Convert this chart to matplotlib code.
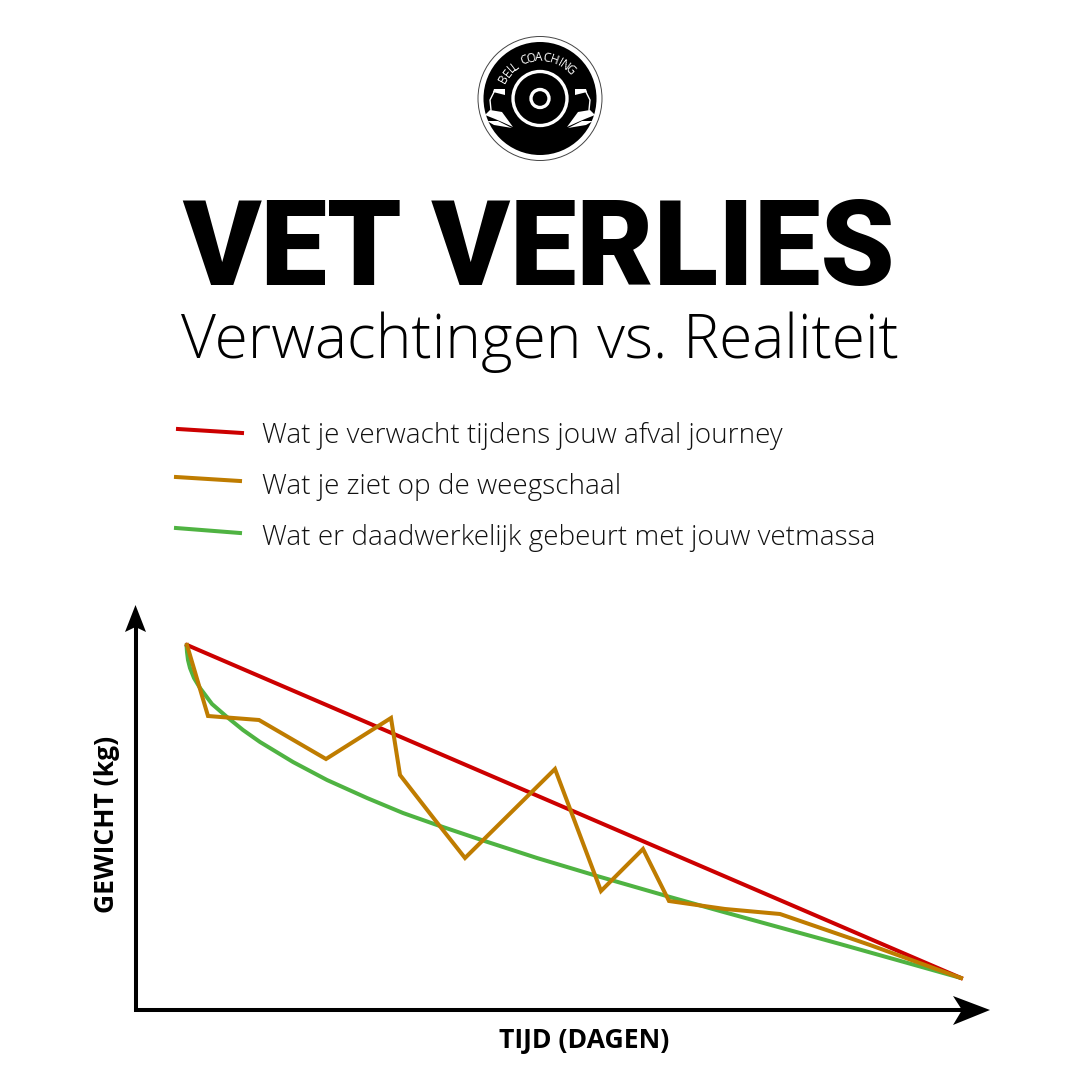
import math
import matplotlib
matplotlib.use("Agg")
import matplotlib.pyplot as plt
from matplotlib.patches import Circle, Polygon

title = "VET VERLIES"
subtitle = "Verwachtingen vs. Realiteit"
legend_labels = ["Wat je verwacht tijdens jouw afval journey",
                 "Wat je ziet op de weegschaal",
                 "Wat er daadwerkelijk gebeurt met jouw vetmassa"]
x_label = "TIJD (DAGEN)"
y_label = "GEWICHT (kg)"
expected_x = [187, 961]
expected_y = [645, 978]
scale_x = [187, 208, 259, 326, 391, 400, 435, 465, 555, 601, 643, 669, 725, 780, 870, 961]
scale_y = [645, 716, 720, 759, 718, 775, 820, 858, 769, 891, 849, 901, 909, 914, 945, 978]
fat_x = [186.5, 187, 188, 190, 194, 200, 212, 227, 243, 260, 293, 327, 367, 403, 437, 483, 537, 597, 670, 720, 840, 961]
fat_y = [645, 652, 660, 668, 678, 688, 704, 717, 730, 742, 762, 780, 798, 813, 825, 840.5, 858, 876, 897, 911, 944, 978]
c_red, c_orange, c_green = "#cc0000", "#bf7c00", "#4fb342"

fig = plt.figure(figsize=(10.8, 10.8), dpi=100, facecolor="white")
ax = fig.add_axes([0, 0, 1, 1])
ax.set_xlim(0, 1080)
ax.set_ylim(1080, 0)
ax.axis("off")

ax.plot(fat_x, fat_y, color=c_green, lw=2.9, solid_capstyle="round", solid_joinstyle="round", zorder=3)
ax.plot(expected_x, expected_y, color=c_red, lw=2.9, zorder=5)
ax.plot(scale_x, scale_y, color=c_orange, lw=2.9, solid_joinstyle="miter", zorder=6)

# axes arrows
ax.plot([135.5, 135.5, 965], [625, 1010, 1010], color="black", lw=2.9, solid_joinstyle="miter", zorder=7)
ax.add_patch(Polygon([[135.5, 605], [146, 632], [135.5, 627], [125, 632]], fc="black", ec="none", zorder=8))
ax.add_patch(Polygon([[990, 1010], [953, 996], [962, 1010], [953, 1025]], fc="black", ec="none", zorder=8))

# legend
for (x0, y0, x1, y1), c in zip([(178, 429, 242, 433), (176, 477, 240, 481), (176, 528, 240, 533)],
                               [c_red, c_orange, c_green]):
    ax.plot([x0, x1], [y0, y1], color=c, lw=2.9)
for y, s in zip([436, 487, 538], legend_labels):
    ax.text(262, y, s, fontsize=20.1, family="Open Sans", fontweight="light", va="center", ha="left", color="#111111")

# headings
ax.text(539, 252, title, fontsize=85.5, family="Roboto", fontweight="black", va="center", ha="center", color="black")
ax.text(540, 342, subtitle, fontsize=43.6, family="Open Sans", fontweight="light", va="center", ha="center", color="black")
ax.text(584.5, 1041, x_label, fontsize=19.2, family="Open Sans", fontweight="bold", va="center", ha="center", color="black")
ax.text(107, 824, y_label, fontsize=19.1, family="Open Sans", fontweight="bold", va="center", ha="center", rotation=90, color="black")

# logo
cx, cy = 540, 98.5
ax.add_patch(Circle((cx, cy), 62, fc="white", ec="#444444", lw=0.7))
ax.add_patch(Circle((cx, cy), 56.5, fc="black", ec="none"))
ax.add_patch(Circle((cx, cy), 27, fc="black", ec="white", lw=2.4))
ax.add_patch(Circle((cx, cy), 9, fc="black", ec="white", lw=2.4))
for s in (-1, 1):
    # grip, arm and leaf shapes at either side of the plate
    ax.add_patch(Polygon([[cx+s*35, 89], [cx+s*46, 89], [cx+s*47, 92], [cx+s*35, 95]], fc="white", ec="none"))
    ax.plot([cx+s*46, cx+s*50, cx+s*49], [92, 100, 110], color="white", lw=1.0)
    ax.add_patch(Polygon([[cx+s*27, 127], [cx+s*38, 112], [cx+s*50, 110], [cx+s*55, 115], [cx+s*45, 119], [cx+s*38, 122]],
                         fc="white", ec="none"))
    ax.add_patch(Polygon([[cx+s*28, 128], [cx+s*42, 121], [cx+s*53, 121], [cx+s*46, 125]], fc="white", ec="none"))

letters = "BELL COACHING"
letter_angles = [-61, -52, -43.5, -37.5, -30, -23, -12.5, -1.5, 9, 19.5, 29, 36, 46]
for ch, a in zip(letters, letter_angles):
    if ch == " ":
        continue
    r = 41
    ax.text(cx + r*math.sin(math.radians(a)), cy - r*math.cos(math.radians(a)), ch,
            fontsize=8.6, family="Open Sans", fontweight="normal", color="white",
            rotation=-a, rotation_mode="anchor", ha="center", va="center")

fig.savefig("out.png", dpi=100, facecolor="white")
